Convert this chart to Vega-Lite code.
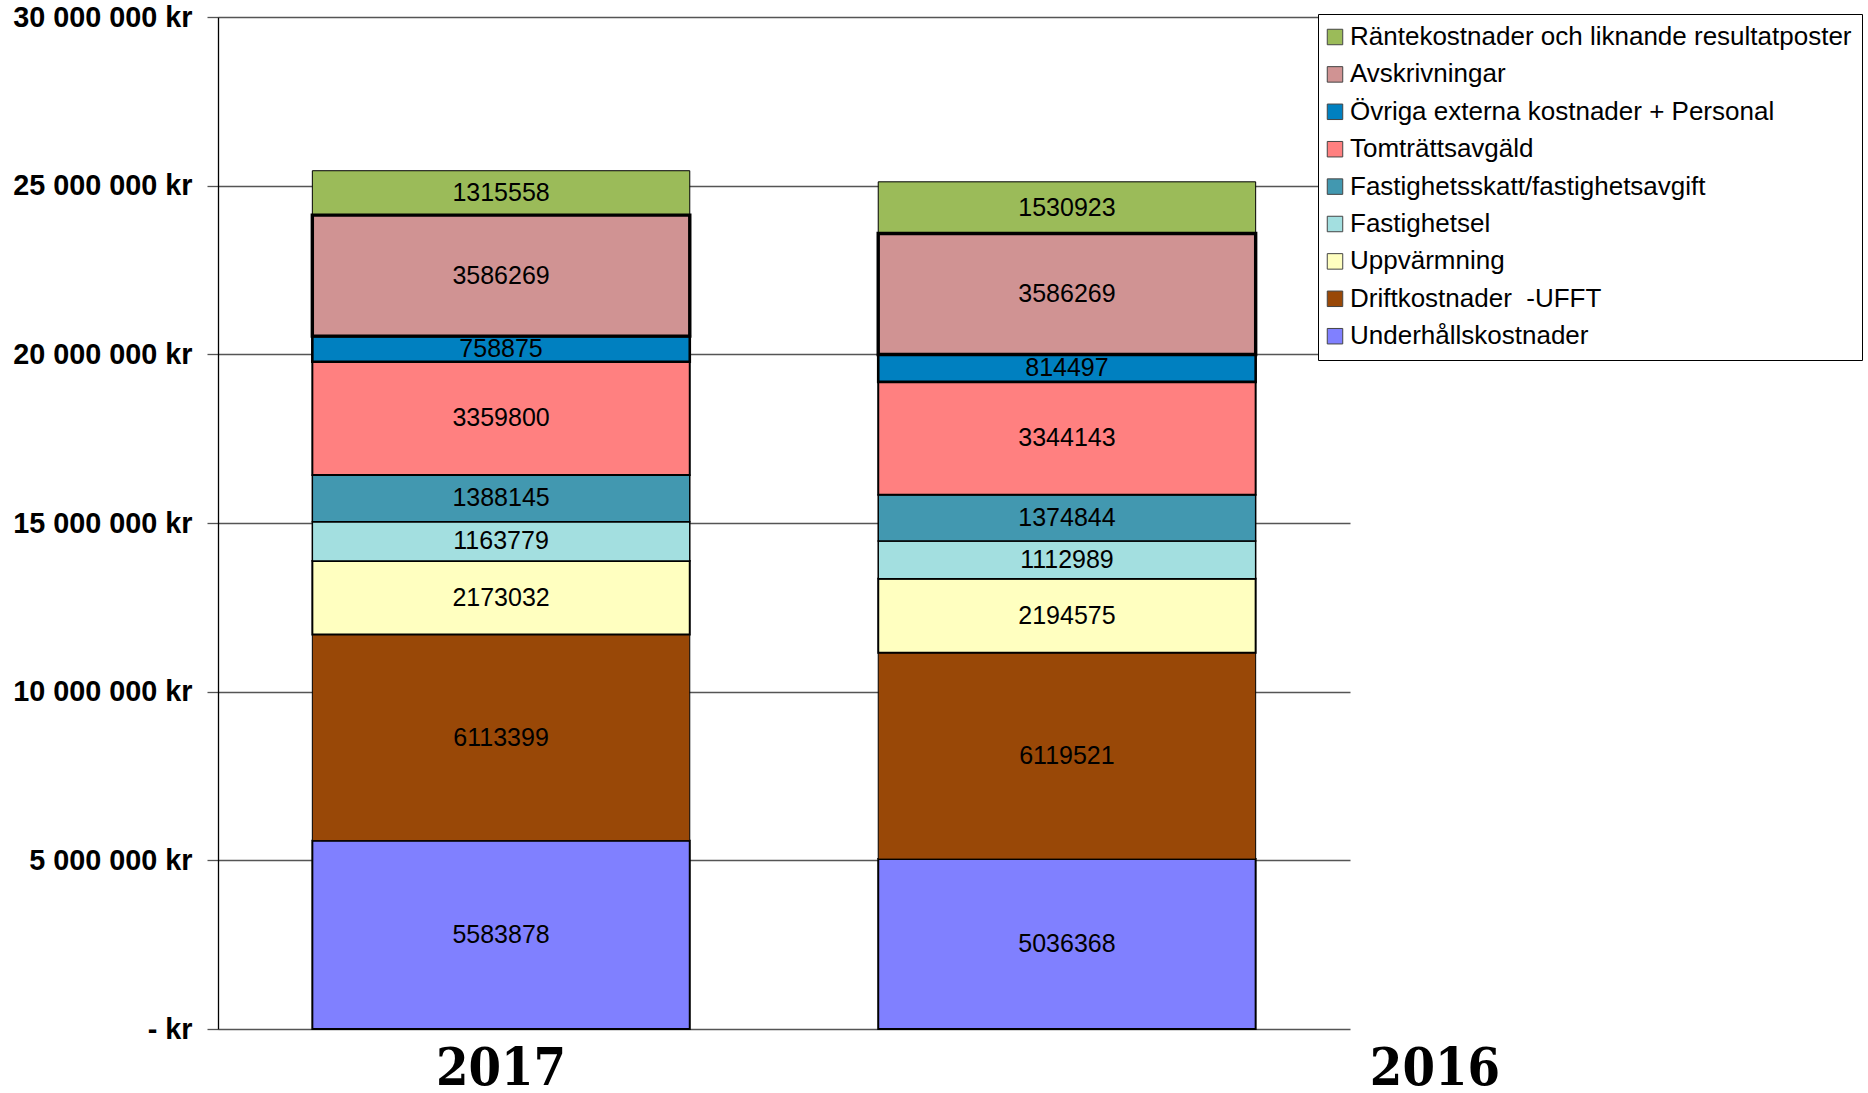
{
  "$schema": "https://vega.github.io/schema/vega-lite/v6.json",
  "autosize": {"type": "none"},
  "width": 1132,
  "height": 1012,
  "padding": {"left": 218, "top": 17, "right": 518, "bottom": 64},
  "background": "white",
  "config": {"view": {"stroke": null}},
  "data": {"values": [
    {"year": "2017", "serie": "Underhållskostnader", "belopp": 5583878},
    {"year": "2017", "serie": "Driftkostnader\u00a0 -UFFT", "belopp": 6113399},
    {"year": "2017", "serie": "Uppvärmning", "belopp": 2173032},
    {"year": "2017", "serie": "Fastighetsel", "belopp": 1163779},
    {"year": "2017", "serie": "Fastighetsskatt/fastighetsavgift", "belopp": 1388145},
    {"year": "2017", "serie": "Tomträttsavgäld", "belopp": 3359800},
    {"year": "2017", "serie": "Räntekostnader och liknande resultatposter", "belopp": 1315558},
    {"year": "2017", "serie": "Övriga externa kostnader + Personal", "belopp": 758875},
    {"year": "2017", "serie": "Avskrivningar", "belopp": 3586269},
    {"year": "2016", "serie": "Underhållskostnader", "belopp": 5036368},
    {"year": "2016", "serie": "Driftkostnader\u00a0 -UFFT", "belopp": 6119521},
    {"year": "2016", "serie": "Uppvärmning", "belopp": 2194575},
    {"year": "2016", "serie": "Fastighetsel", "belopp": 1112989},
    {"year": "2016", "serie": "Fastighetsskatt/fastighetsavgift", "belopp": 1374844},
    {"year": "2016", "serie": "Tomträttsavgäld", "belopp": 3344143},
    {"year": "2016", "serie": "Räntekostnader och liknande resultatposter", "belopp": 1530923},
    {"year": "2016", "serie": "Övriga externa kostnader + Personal", "belopp": 814497},
    {"year": "2016", "serie": "Avskrivningar", "belopp": 3586269}
  ]},
  "transform": [
    {"calculate": "indexof(['Räntekostnader och liknande resultatposter','Avskrivningar','Övriga externa kostnader + Personal','Tomträttsavgäld','Fastighetsskatt/fastighetsavgift','Fastighetsel','Uppvärmning','Driftkostnader\u00a0 -UFFT','Underhållskostnader'], datum.serie)", "as": "ord"},
    {"stack": "belopp", "groupby": ["year"], "sort": [{"field": "ord", "order": "descending"}], "as": ["y0", "y1"]},
    {"calculate": "(datum.y0 + datum.y1) / 2", "as": "ymid"}
  ],
  "encoding": {
    "x": {
      "field": "year", "type": "nominal",
      "scale": {"type": "band", "domain": ["2017", "2016"], "paddingInner": 0.333, "paddingOuter": 0.1667},
      "axis": {
        "title": null, "domain": false, "ticks": false, "tickSize": 0, "grid": false,
        "labelAngle": 0,
        "labelFont": "DejaVu Serif Condensed", "labelFontWeight": "bold", "labelFontSize": 52, "labelColor": "#000",
        "labelBaseline": "alphabetic", "labelPadding": 55,
        "labelOffset": {"condition": {"test": "datum.value === '2016'", "value": 368}, "value": 0}
      }
    }
  },
  "layer": [
    {
      "mark": {"type": "bar", "stroke": "#000", "opacity": 1},
      "encoding": {
        "y": {
          "field": "y0", "type": "quantitative",
          "scale": {"domain": [0, 30000000], "nice": false, "zero": true},
          "axis": {
            "title": null,
            "values": [0, 5000000, 10000000, 15000000, 20000000, 25000000, 30000000],
            "labelExpr": "datum.value == 0 ? '- kr' : replace(replace(format(datum.value, ','), ',', ' '), ',', ' ') + ' kr'",
            "labelFont": "Liberation Sans", "labelFontWeight": "bold", "labelFontSize": 28.8, "labelColor": "#000",
            "labelPadding": 15, "tickSize": 11, "tickColor": "#555", "tickWidth": 1.3,
            "grid": true, "gridColor": "#555", "gridWidth": 1.3,
            "domain": true, "domainColor": "#000", "domainWidth": 1.3
          }
        },
        "y2": {"field": "y1"},
        "color": {
          "field": "serie", "type": "nominal",
          "scale": {
            "domain": ["Räntekostnader och liknande resultatposter", "Avskrivningar", "Övriga externa kostnader + Personal", "Tomträttsavgäld", "Fastighetsskatt/fastighetsavgift", "Fastighetsel", "Uppvärmning", "Driftkostnader\u00a0 -UFFT", "Underhållskostnader"],
            "range": ["#9BBB59", "#D09393", "#0080C0", "#FF8080", "#4298B0", "#A3DFE0", "#FFFFC0", "#994807", "#8080FF"]
          },
          "legend": {
            "title": null, "orient": "none", "legendX": 1100, "legendY": -3,
            "strokeColor": "#000", "fillColor": "#fff", "padding": 10,
            "symbolType": "square", "symbolSize": 240, "symbolStrokeColor": "#444", "symbolStrokeWidth": 1, "symbolOpacity": 1,
            "symbolOffset": -6,
            "labelFont": "Liberation Sans", "labelFontSize": 26, "labelColor": "#000", "labelLimit": 0,
            "labelOffset": 2, "rowPadding": 11.4
          }
        },
        "strokeWidth": {
          "condition": [
            {"test": "datum.serie === 'Avskrivningar'", "value": 3.4},
            {"test": "datum.serie === 'Övriga externa kostnader + Personal'", "value": 2.6},
            {"test": "datum.serie === 'Uppvärmning' || datum.serie === 'Underhållskostnader' || datum.serie === 'Tomträttsavgäld'", "value": 2},
            {"test": "datum.serie === 'Räntekostnader och liknande resultatposter' || datum.serie === 'Driftkostnader\u00a0 -UFFT'", "value": 1}
          ],
          "value": 1.5
        }
      }
    },
    {
      "mark": {"type": "text", "font": "Liberation Sans", "fontSize": 25, "color": "#000", "baseline": "middle", "align": "center"},
      "encoding": {
        "y": {"field": "ymid", "type": "quantitative"},
        "text": {"field": "belopp", "type": "quantitative", "format": "d"}
      }
    }
  ]
}
